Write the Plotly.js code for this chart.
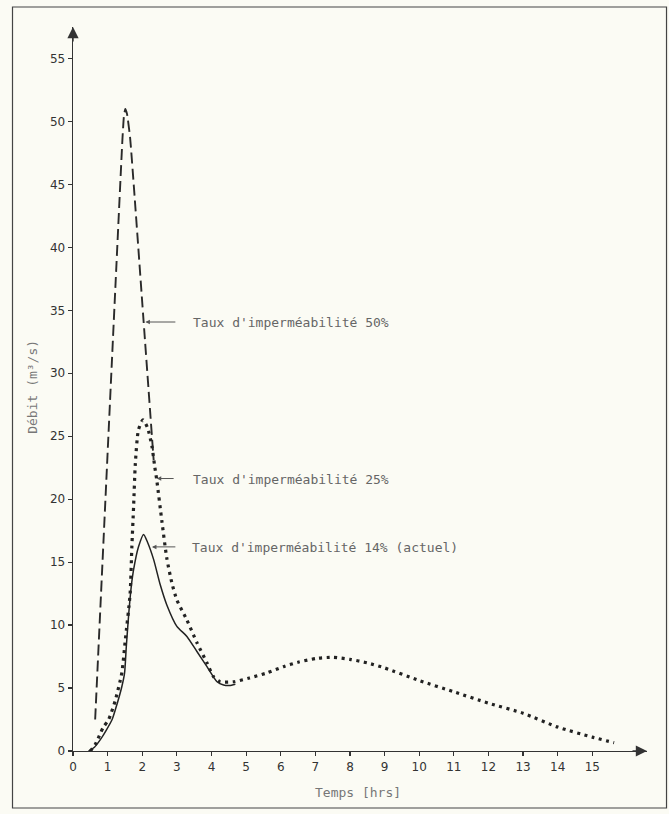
<!DOCTYPE html>
<html>
<head>
<meta charset="utf-8">
<script src="https://cdn.plot.ly/plotly-3.0.1.min.js"></script>
<style>html,body{margin:0;padding:0;background:#fbfbf4;}</style>
</head>
<body>
<div id="chart" style="width:669px;height:814px;"></div>
<script>
// Taux d'imperméabilité 50 %
const taux50X = [0.64, 1.43, 1.47, 1.51, 1.56, 1.65, 2.04, 2.33];
const taux50Y = [2.5, 48.7, 50.4, 51.0, 50.6, 48.7, 34.1, 23.1];

// Taux d'imperméabilité 25 %
const taux25X = [0.5, 0.64, 0.79, 0.88, 1.03, 1.22, 1.41, 1.51, 1.65, 1.70, 1.75, 1.80, 1.89, 2.02, 2.15, 2.28, 2.36, 2.42, 2.57, 2.71, 2.86, 3.0, 3.29, 3.58, 3.87, 4.06, 4.25, 4.64, 5.1, 5.6, 6.08, 6.5, 7.04, 7.52, 8.0, 8.5, 9.0, 10.0, 11.0, 12.0, 13.0, 14.0, 15.0, 15.63];
const taux25Y = [0, 0.5, 1.4, 1.9, 2.5, 4.0, 6.2, 8.8, 12.5, 16.2, 19.4, 22.8, 25.5, 26.3, 25.7, 24.2, 22.6, 21.5, 18.2, 15.3, 13.3, 12.0, 10.4, 8.6, 7.0, 5.9, 5.5, 5.5, 5.8, 6.2, 6.7, 7.05, 7.36, 7.44, 7.28, 7.0, 6.6, 5.6, 4.7, 3.8, 3.0, 1.9, 1.1, 0.66];

// Taux d'imperméabilité 14 % (actuel)
const taux14X = [0.45, 0.62, 0.79, 0.95, 1.13, 1.22, 1.41, 1.49, 1.54, 1.61, 1.68, 1.75, 1.89, 2.04, 2.15, 2.33, 2.52, 2.71, 3.0, 3.29, 3.58, 3.87, 4.16, 4.35, 4.52, 4.69];
const taux14Y = [0, 0.3, 0.9, 1.6, 2.5, 3.25, 5.1, 6.2, 8.3, 10.9, 13.0, 14.4, 16.2, 17.2, 16.6, 15.2, 13.2, 11.6, 9.9, 9.1, 7.9, 6.7, 5.5, 5.24, 5.2, 5.3];

const xTicks = [0,1,2,3,4,5,6,7,8,9,10,11,12,13,14,15];
const yTicks = [0,5,10,15,20,25,30,35,40,45,50,55];

const labels = ["Taux d'imperméabilité 50%", "Taux d'imperméabilité 25%", "Taux d'imperméabilité 14% (actuel)"];
const xTitle = "Temps [hrs]";
const yTitle = "Débit (m³/s)";

const traces = [
  {x: taux50X, y: taux50Y, mode: 'lines', line: {color: '#2a2a2a', width: 1.9, dash: '11px,5px', shape: 'spline', smoothing: 0.4}},
  {x: taux25X, y: taux25Y, mode: 'lines', line: {color: '#222', width: 3.2, dash: '3px,4.5px', shape: 'spline', smoothing: 0.6}},
  {x: taux14X, y: taux14Y, mode: 'lines', line: {color: '#222', width: 1.5, shape: 'spline', smoothing: 0.6}}
];

const mono = 'DejaVu Sans Mono, monospace';
const labelFont = {family: mono, size: 13, color: '#666'};
const arrowCol = '#555';

const annotations = [
  // axis arrows
  {x: 0, y: 57.5, xref: 'x', yref: 'y', ax: 0, ay: 16, showarrow: true, arrowhead: 2, arrowsize: 1.6, arrowwidth: 1.4, arrowcolor: '#333', text: ''},
  {x: 16.58, y: 0, xref: 'x', yref: 'y', ax: -16, ay: 0, showarrow: true, arrowhead: 2, arrowsize: 1.6, arrowwidth: 1.4, arrowcolor: '#333', text: ''},
  // label arrows
  {x: 2.09, y: 34.07, ax: 3.0, ay: 34.07, xref: 'x', yref: 'y', axref: 'x', ayref: 'y', showarrow: true, arrowhead: 2, arrowsize: 0.9, arrowwidth: 1, arrowcolor: arrowCol, text: ''},
  {x: 2.42, y: 21.64, ax: 2.95, ay: 21.64, xref: 'x', yref: 'y', axref: 'x', ayref: 'y', showarrow: true, arrowhead: 2, arrowsize: 0.9, arrowwidth: 1, arrowcolor: arrowCol, text: ''},
  {x: 2.28, y: 16.21, ax: 3.0, ay: 16.21, xref: 'x', yref: 'y', axref: 'x', ayref: 'y', showarrow: true, arrowhead: 2, arrowsize: 0.9, arrowwidth: 1, arrowcolor: arrowCol, text: ''},
  // label texts
  {x: 3.42, y: 34.0, xref: 'x', yref: 'y', xanchor: 'left', yanchor: 'middle', showarrow: false, text: labels[0], font: labelFont},
  {x: 3.42, y: 21.6, xref: 'x', yref: 'y', xanchor: 'left', yanchor: 'middle', showarrow: false, text: labels[1], font: labelFont},
  {x: 3.38, y: 16.2, xref: 'x', yref: 'y', xanchor: 'left', yanchor: 'middle', showarrow: false, text: labels[2], font: labelFont},
  // axis titles
  {x: 8.24, y: -0.058, xref: 'x', yref: 'paper', xanchor: 'center', yanchor: 'middle', showarrow: false, text: xTitle, font: {family: mono, size: 13, color: '#777'}},
  {x: -0.0697, y: 0.503, xref: 'paper', yref: 'paper', xanchor: 'center', yanchor: 'middle', textangle: -90, showarrow: false, text: yTitle, font: {family: mono, size: 13, color: '#777'}}
];

const layout = {
  width: 669, height: 814,
  paper_bgcolor: '#fbfbf4', plot_bgcolor: '#fbfbf4',
  margin: {l: 73, r: 22, t: 27, b: 63, pad: 0},
  showlegend: false,
  xaxis: {range: [0, 16.58], tickvals: xTicks, ticktext: xTicks.map(String), showgrid: false, zeroline: false,
          showline: true, linecolor: '#333', linewidth: 1.4, ticks: 'outside', ticklen: 4, tickcolor: '#333', tickwidth: 1.2,
          tickfont: {family: 'DejaVu Sans, sans-serif', size: 12, color: '#333'}},
  yaxis: {range: [0, 57.5], tickvals: yTicks, ticktext: yTicks.map(String), showgrid: false, zeroline: false,
          showline: true, linecolor: '#333', linewidth: 1.4, ticks: 'outside', ticklen: 4, tickcolor: '#333', tickwidth: 1.2,
          tickfont: {family: 'DejaVu Sans, sans-serif', size: 12, color: '#333'}},
  annotations: annotations,
  shapes: [
    {type: 'rect', xref: 'paper', yref: 'paper', x0: -0.1054, x1: 1.034, y0: -0.0787, y1: 1.0276,
     line: {color: '#444', width: 1.2}, fillcolor: 'rgba(0,0,0,0)', layer: 'below'}
  ]
};

Plotly.newPlot('chart', traces, layout, {displayModeBar: false, staticPlot: true});
</script>
</body>
</html>
